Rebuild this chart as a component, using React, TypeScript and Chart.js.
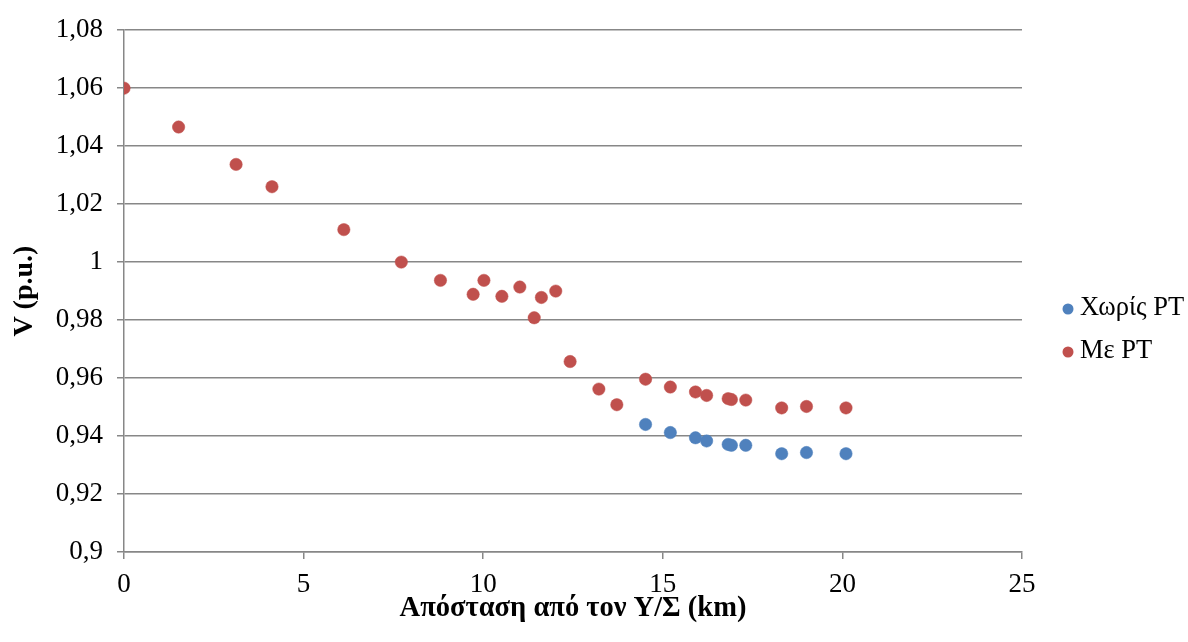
import React, { useEffect, useRef } from "react";
import { Chart, registerables } from "chart.js";

Chart.register(...registerables);

// Distance from the substation (km)
const distRed = [0, 1.52, 3.12, 4.12, 6.12, 7.72, 8.81, 9.72, 10.02, 10.52, 11.02, 11.42, 11.62, 12.02, 12.42, 13.22, 13.72, 14.52, 15.21, 15.91, 16.22, 16.82, 16.91, 17.31, 18.31, 19.0, 20.1];
// Voltage with voltage regulator (p.u.)
const voltWith = [1.06, 1.0466, 1.0337, 1.026, 1.0112, 1.0, 0.9937, 0.9889, 0.9937, 0.9882, 0.9914, 0.9808, 0.9878, 0.99, 0.9657, 0.9562, 0.9508, 0.9596, 0.9569, 0.9552, 0.954, 0.9529, 0.9526, 0.9524, 0.9497, 0.9502, 0.9497];

// Downstream nodes, voltage without regulator (p.u.)
const distBlue = [14.52, 15.21, 15.91, 16.22, 16.82, 16.91, 17.31, 18.31, 19.0, 20.1];
const voltWithout = [0.944, 0.9412, 0.9394, 0.9383, 0.9371, 0.9368, 0.9368, 0.9339, 0.9343, 0.9339];

const seriesLabels = ["Χωρίς PT", "Με PT"];
const seriesColors = ["#4F81BD", "#C0504D"];

const FONT = "'Liberation Serif', 'Times New Roman', serif";
const GRID = "#878787";

const fmt = (v: number) => String(parseFloat(v.toFixed(2))).replace(".", ",");

// Legend drawn to the right of the plot area
const sideLegend = {
  id: "sideLegend",
  afterDraw(chart: any) {
    const ctx = chart.ctx;
    const items = [0, 1];
    ctx.save();
    ctx.font = `26.5px ${FONT}`;
    ctx.textBaseline = "middle";
    ctx.textAlign = "left";
    items.forEach((i) => {
      const y = 308 + i * 43;
      ctx.beginPath();
      ctx.fillStyle = seriesColors[i];
      ctx.arc(1068, y + 1, 5.5, 0, Math.PI * 2);
      ctx.fill();
      ctx.fillStyle = "#000";
      ctx.fillText(seriesLabels[i], 1080, y);
    });
    ctx.restore();
  },
};

export default function App() {
  const ref = useRef<HTMLCanvasElement>(null);

  useEffect(() => {
    if (!ref.current) return;
    const chart = new Chart(ref.current, {
      type: "scatter",
      data: {
        datasets: [
          {
            label: seriesLabels[0],
            data: distBlue.map((x, i) => ({ x, y: voltWithout[i] })),
            backgroundColor: seriesColors[0],
            borderColor: seriesColors[0],
            pointRadius: 6.2,
            borderWidth: 0.5,
          },
          {
            label: seriesLabels[1],
            data: distRed.map((x, i) => ({ x, y: voltWith[i] })),
            backgroundColor: seriesColors[1],
            borderColor: seriesColors[1],
            pointRadius: 6.2,
            borderWidth: 0.5,
          },
        ],
      },
      options: {
        animation: false,
        responsive: false,
        layout: { padding: { left: 0, right: 166, top: 26, bottom: 0 } },
        plugins: { legend: { display: false }, tooltip: { enabled: false } },
        scales: {
          x: {
            type: "linear",
            min: 0,
            max: 25,
            ticks: { stepSize: 5, color: "#000", font: { family: FONT, size: 27 }, padding: 10 },
            grid: { drawOnChartArea: false, drawTicks: true, tickLength: 7, color: GRID, lineWidth: 1.5 },
            border: { color: GRID, width: 1.5 },
            title: {
              display: true,
              text: "Απόσταση από τον Υ/Σ (km)",
              color: "#000",
              font: { family: FONT, size: 28.5, weight: "bold" },
              padding: { top: 0, bottom: 16 },
            },
            afterFit: (s: any) => {
              s.height = 90;
            },
          },
          y: {
            type: "linear",
            min: 0.9,
            max: 1.08,
            ticks: {
              stepSize: 0.02,
              color: "#000",
              font: { family: FONT, size: 27 },
              padding: 14,
              callback: (v: any) => fmt(Number(v)),
            },
            grid: { drawOnChartArea: true, drawTicks: true, tickLength: 7, color: GRID, lineWidth: 1.5 },
            border: { color: GRID, width: 1.5 },
            title: {
              display: true,
              text: "V (p.u.)",
              color: "#000",
              font: { family: FONT, size: 28, weight: "bold" },
              padding: { top: 8, bottom: 0 },
            },
            afterFit: (s: any) => {
              s.width = 124;
            },
          },
        },
      },
      plugins: [sideLegend],
    });
    return () => chart.destroy();
  }, []);

  return (
    <div style={{ position: "fixed", left: 0, top: 0, width: 1188, height: 642, background: "#fff" }}>
      <canvas ref={ref} width={1188} height={642} style={{ width: 1188, height: 642 }} />
    </div>
  );
}
